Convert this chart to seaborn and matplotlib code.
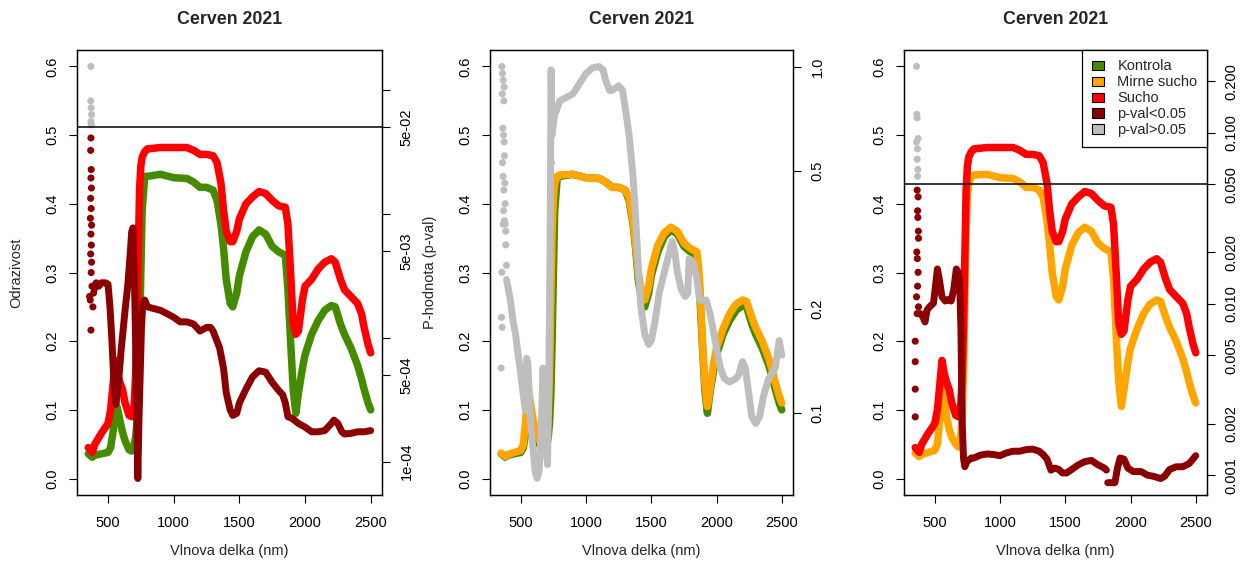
import matplotlib
matplotlib.use("Agg")
import matplotlib.pyplot as plt
import numpy as np
import pandas as pd
import seaborn as sns
from matplotlib.patches import Patch
from matplotlib.ticker import NullLocator

sns.set_style("ticks")
plt.rcParams['font.family'] = ['Liberation Sans', 'DejaVu Sans']

# ---------------- data ----------------
wavelength = [350, 380, 400, 450, 500, 520, 540, 555, 570, 590, 610, 630, 660, 680, 690,
              700, 710, 720, 730, 740, 750, 760, 780, 800, 900, 1000, 1100, 1150, 1200, 1250,
              1300, 1330, 1360, 1380, 1400, 1430, 1450, 1480, 1500, 1550, 1600, 1650, 1700, 1750,
              1800, 1850, 1870, 1890, 1910, 1930, 1950, 1980, 2000, 2050, 2100, 2150, 2200, 2230,
              2270, 2300, 2350, 2400, 2430, 2450, 2480, 2500]

kontrola = [.036, .031, .034, .036, .038, .045, .07, .1, .104, .085, .068, .055, .042, .04, .042,
            .05, .06, .08, .12, .2, .3, .39, .44, .44, .443, .438, .437, .432, .424, .424,
            .42, .405, .37, .335, .29, .255, .25, .27, .295, .33, .352, .362, .356, .338,
            .33, .325, .275, .2, .13, .095, .125, .16, .18, .21, .23, .245, .252, .25,
            .225, .21, .19, .165, .145, .13, .11, .10]

mirne_sucho = [.037, .032, .035, .038, .041, .05, .09, .132, .115, .09, .072, .06, .05, .046, .05,
               .065, .09, .15, .26, .36, .41, .43, .44, .442, .443, .438, .437, .432, .424, .424,
               .42, .41, .375, .34, .3, .265, .26, .28, .305, .34, .358, .366, .36, .343,
               .335, .33, .29, .21, .14, .105, .13, .17, .19, .218, .24, .254, .26, .258,
               .235, .22, .2, .175, .155, .14, .12, .11]

sucho = [.045, .038, .05, .066, .08, .1, .14, .172, .155, .14, .13, .11, .092, .09, .095,
         .11, .15, .22, .32, .42, .455, .468, .476, .48, .482, .482, .482, .478, .472, .472,
         .47, .46, .43, .39, .36, .345, .345, .36, .378, .4, .41, .418, .415, .405,
         .397, .395, .37, .3, .225, .21, .215, .26, .28, .29, .305, .315, .32, .315,
         .29, .275, .265, .255, .24, .22, .195, .183]

# Panel 1: Kontrola vs Sucho p-values
p1_dots_wl = [370, 368, 372, 375, 370, 373, 370, 368, 372, 370, 374, 368, 372, 366, 375, 370,
              373, 368, 375, 372, 378, 360, 365, 370, 385, 390]
p1_dots_p = [0.154, 0.0812, 0.0715, 0.063, 0.0554, 0.052, 0.0408, 0.0324, 0.0227, 0.0194, 0.0161,
             0.0133, 0.0110, 0.00918, 0.00808, 0.00684, 0.00558, 0.00473, 0.00406, 0.00335,
             0.0026, 0.00215, 0.00201, 0.00115, 0.00177, 0.00229]
p1_wl = [395, 410, 430, 450, 480, 500, 515, 530, 545, 560, 580, 600, 630, 650, 670, 680, 690,
         700, 710, 720, 727, 735, 745, 755, 765, 780, 800, 900, 950, 1000, 1050, 1100, 1150,
         1200, 1250, 1280, 1300, 1350, 1380, 1400, 1430, 1450, 1480, 1500, 1550, 1600, 1650,
         1700, 1750, 1800, 1830, 1850, 1870, 1900, 1950, 2000, 2050, 2100, 2150, 2200, 2220,
         2250, 2280, 2300, 2350, 2400, 2450, 2500]
p1_p = [2.44e-3, 2.77e-3, 2.60e-3, 2.77e-3, 2.77e-3, 2.70e-3, 1.77e-3, 9.37e-4, 4.36e-4, 2.90e-4,
        4.36e-4, 7.93e-4, 1.66e-3, 2.60e-3, 4.91e-3, 7.11e-3, 7.68e-3, 3.35e-3, 9.37e-4, 2.03e-4,
        7.31e-5, 2.03e-4, 4.95e-4, 1.21e-3, 1.89e-3, 2.01e-3, 1.77e-3, 1.66e-3, 1.56e-3, 1.46e-3,
        1.34e-3, 1.34e-3, 1.29e-3, 1.13e-3, 1.21e-3, 1.21e-3, 1.13e-3, 8.25e-4, 5.62e-4, 3.60e-4,
        2.62e-4, 2.36e-4, 2.45e-4, 2.97e-4, 3.84e-4, 4.82e-4, 5.41e-4, 5.27e-4, 4.36e-4, 3.74e-4,
        3.46e-4, 2.97e-4, 2.30e-4, 2.24e-4, 2.03e-4, 1.90e-4, 1.74e-4, 1.74e-4, 1.78e-4, 2.03e-4,
        2.16e-4, 2.03e-4, 1.74e-4, 1.67e-4, 1.69e-4, 1.74e-4, 1.74e-4, 1.78e-4]
p1_seg = [0] * len(p1_wl)

# Panel 2: Kontrola vs Mirne sucho p-values
p2_dots_wl = [355, 360, 365, 358, 370, 362, 368, 372, 360, 375, 365, 378, 370, 380, 368, 375,
              385, 390, 355, 352, 357, 350, 380, 385, 365, 372, 728, 730, 735]
p2_dots_p = [1.0, 0.955, 0.913, 0.834, 0.796, 0.664, 0.634, 0.606, 0.528, 0.553, 0.482, 0.461,
             0.44, 0.402, 0.384, 0.359, 0.306, 0.267, 0.255, 0.189, 0.177, 0.135, 0.351, 0.335,
             0.351, 0.873, 0.359, 0.482, 0.528]
p2_wl = [390, 400, 420, 440, 460, 480, 500, 520, 535, 545, 555, 570, 590, 610, 625, 640, 655,
         670, 685, 695, 705, 715, 725, 732, 738, 745, 760, 780, 800, 850, 900, 950, 1000, 1050,
         1100, 1130, 1150, 1180, 1200, 1250, 1280, 1300, 1330, 1360, 1380, 1400, 1420, 1450,
         1480, 1500, 1530, 1560, 1600, 1640, 1660, 1680, 1700, 1730, 1760, 1780, 1790, 1820,
         1850, 1870, 1900, 1920, 1950, 2000, 2030, 2060, 2100, 2150, 2170, 2200, 2220, 2250,
         2270, 2300, 2330, 2360, 2400, 2450, 2480, 2500]
p2_p = [0.243, 0.233, 0.212, 0.185, 0.169, 0.147, 0.129, 0.112, 0.102, 0.144, 0.138, 0.102,
        0.0815, 0.068, 0.0649, 0.068, 0.0853, 0.135, 0.112, 0.0815, 0.0711, 0.129, 0.320, 0.978,
        0.634, 0.664, 0.727, 0.761, 0.796, 0.815, 0.834, 0.893, 0.955, 0.992, 1.0, 0.978, 0.913,
        0.853, 0.853, 0.880, 0.853, 0.761, 0.634, 0.482, 0.367, 0.267, 0.203, 0.169, 0.158,
        0.162, 0.185, 0.222, 0.255, 0.292, 0.313, 0.292, 0.255, 0.227, 0.217, 0.222, 0.279,
        0.273, 0.243, 0.212, 0.212, 0.212, 0.194, 0.154, 0.135, 0.126, 0.123, 0.126, 0.129,
        0.141, 0.135, 0.112, 0.0978, 0.0935, 0.0978, 0.112, 0.126, 0.135, 0.162, 0.147]
p2_seg = [0] * len(p2_wl)

# Panel 3: Mirne sucho vs Sucho p-values
p3_dots_wl = [360, 362, 365, 372, 360, 368, 365, 370, 368, 365, 372, 368, 370, 374, 375, 362,
              366, 372, 368, 360, 375, 365, 350, 350, 350, 350]
p3_dots_p = [0.244, 0.128, 0.122, 0.0924, 0.0883, 0.0805, 0.070, 0.061, 0.0556, 0.0462, 0.0422,
             0.035, 0.032, 0.0266, 0.0242, 0.0201, 0.0184, 0.0153, 0.0127, 0.011, 0.00962,
             0.00878, 0.00606, 0.0046, 0.00318, 0.00219]
p3_wl = [390, 410, 425, 440, 460, 490, 505, 520, 535, 555, 580, 600, 625, 645, 665, 680, 690,
         700, 705, 710, 720, 730, 745, 780, 800, 850, 900, 950, 1000, 1050, 1100, 1150, 1200,
         1250, 1300, 1330, 1360, 1390, 1420, 1450, 1480, 1510, 1550, 1600, 1650, 1700, 1750,
         1800, 1815,
         1825, 1880, 1900, 1920, 1950, 1980, 2020, 2080, 2130, 2180, 2230, 2260, 2300, 2350,
         2400, 2450, 2500]
p3_p = [8.78e-3, 8.38e-3, 7.85e-3, 9.19e-3, 9.62e-3, 1.01e-2, 1.27e-2, 1.60e-2, 1.39e-2, 1.10e-2,
        1.04e-2, 1.06e-2, 1.04e-2, 1.21e-2, 1.60e-2, 1.53e-2, 1.39e-2, 7.29e-3, 3.82e-3, 2.0e-3,
        1.26e-3, 1.12e-3, 1.20e-3, 1.26e-3, 1.26e-3, 1.31e-3, 1.33e-3, 1.32e-3, 1.30e-3, 1.35e-3,
        1.38e-3, 1.38e-3, 1.41e-3, 1.42e-3, 1.38e-3, 1.32e-3, 1.24e-3, 1.07e-3, 1.10e-3, 1.08e-3,
        1.03e-3, 1.03e-3, 1.08e-3, 1.15e-3, 1.20e-3, 1.22e-3, 1.15e-3, 1.10e-3, 1.07e-3,
        9.04e-4, 9.04e-4, 1.10e-3, 1.26e-3, 1.24e-3, 1.10e-3, 1.05e-3, 1.05e-3, 1.00e-3, 9.83e-4,
        9.56e-4, 9.83e-4, 1.08e-3, 1.12e-3, 1.12e-3, 1.17e-3, 1.30e-3]
p3_seg = [0] * 49 + [1] * 17

alpha = 0.05
title = "Cerven 2021"
xlabel = "Vlnova delka (nm)"
ylabel_left = "Odrazivost"
ylabel_right = "P-hodnota (p-val)"
legend_labels = ["Kontrola", "Mirne sucho", "Sucho", "p-val<0.05", "p-val>0.05"]

# ---------------- style ----------------
GREEN, ORANGE, RED, DARKRED, GRAY = "#458B00", "#FFA500", "#FF0000", "#8B0000", "#BEBEBE"
SIG_PAL = {"p-val<0.05": DARKRED, "p-val>0.05": GRAY}
W, H = 1248, 561
TOP, BOT = 50, 495
FS = 10.5

fig = plt.figure(figsize=(W / 100, H / 100), dpi=100)


def sig_frame(wl, p, seg=None):
    df = pd.DataFrame({"wl": wl, "p": p})
    df["sig"] = np.where(df["p"] < alpha, "p-val<0.05", "p-val>0.05")
    df["seg"] = seg if seg is not None else 0
    df["unit"] = df["sig"] + df["seg"].astype(str)
    return df


def panel(left, right, series, dots, line, p_lim, p_ticks, p_labels, hline):
    ax = fig.add_axes([left / W, (H - BOT) / H, (right - left) / W, (BOT - TOP) / H])
    for vals, col in series:
        sns.lineplot(x=wavelength, y=vals, ax=ax, color=col, linewidth=5.4, sort=False,
                     estimator=None, legend=False, solid_capstyle="round")
    ax.set_xlim(264, 2586)
    ax.set_ylim(-0.024, 0.624)
    ax.set_xticks([500, 1000, 1500, 2000, 2500])
    ax.set_xticklabels(["500", "1000", "1500", "2000", "2500"])
    yt = [0, 0.1, 0.2, 0.3, 0.4, 0.5, 0.6]
    ax.set_yticks(yt)
    ax.set_yticklabels([f"{v:.1f}" for v in yt], rotation=90, va="center")
    ax.set_xlabel("")
    ax.set_ylabel("")
    ax.tick_params(axis="x", direction="out", length=5.8, width=0.8, pad=9, labelsize=FS,
                   colors="black")
    ax.tick_params(axis="y", direction="out", length=5.8, width=0.8, pad=7, labelsize=FS,
                   colors="black")

    ax2 = ax.twinx()
    ax2.set_yscale("log")
    ldf = sig_frame(*line)
    sns.lineplot(data=ldf, x="wl", y="p", hue="sig", palette=SIG_PAL, units="unit",
                 estimator=None, sort=False, ax=ax2, linewidth=5.0, legend=False,
                 solid_capstyle="round")
    ddf = sig_frame(*dots)
    sns.scatterplot(data=ddf, x="wl", y="p", hue="sig", palette=SIG_PAL, s=26, linewidth=0,
                    ax=ax2, legend=False)
    if hline:
        ax2.axhline(alpha, color="black", linewidth=1.1)
    ax2.set_ylim(*p_lim)
    ax2.set_yticks(p_ticks)
    ax2.set_yticklabels(p_labels, rotation=90, va="center")
    ax2.yaxis.set_minor_locator(NullLocator())
    ax2.set_xlabel("")
    ax2.set_ylabel("")
    ax2.tick_params(axis="y", which="both", direction="out", length=5.8, width=0.8, pad=7,
                    labelsize=FS, colors="black")
    for a in (ax, ax2):
        for s in a.spines.values():
            s.set_visible(True)
            s.set_color("black")
            s.set_linewidth(0.9)
    cx = (left + right) / 2 / W
    fig.text(cx, 1 - 19.5 / H, title, ha="center", va="center", fontsize=12.8,
             fontweight="bold")
    fig.text(cx, 1 - 551 / H, xlabel, ha="center", va="center", fontsize=FS)
    return ax, ax2


panel(77, 382, [(kontrola, GREEN), (sucho, RED)],
      (p1_dots_wl, p1_dots_p), (p1_wl, p1_p, p1_seg),
      (5.38e-5, 0.209),
      [1e-4, 5e-4, 1e-3, 5e-3, 1e-2, 5e-2, 1e-1],
      ["1e-04", "5e-04", "", "5e-03", "", "5e-02", ""], True)

panel(490, 793, [(kontrola, GREEN), (mirne_sucho, ORANGE)],
      (p2_dots_wl, p2_dots_p), (p2_wl, p2_p, p2_seg),
      (0.0581, 1.116),
      [0.1, 0.2, 0.5, 1.0], ["0.1", "0.2", "0.5", "1.0"], False)

ax3, ax3b = panel(904, 1207, [(mirne_sucho, ORANGE), (sucho, RED)],
                  (p3_dots_wl, p3_dots_p), (p3_wl, p3_p, p3_seg),
                  (7.66e-4, 0.304),
                  [0.001, 0.002, 0.005, 0.01, 0.02, 0.05, 0.1, 0.2],
                  ["0.001", "0.002", "0.005", "0.010", "0.020", "0.050", "0.100", "0.200"],
                  True)

mid = 1 - (TOP + BOT) / 2 / H
fig.text(16 / W, mid, ylabel_left, rotation=90, ha="center", va="center", fontsize=FS)
fig.text(430 / W, mid, ylabel_right, rotation=90, ha="center", va="center", fontsize=FS)

handles = [Patch(facecolor=c, edgecolor="black", linewidth=0.8)
           for c in [GREEN, ORANGE, RED, DARKRED, GRAY]]
leg = ax3b.legend(handles, legend_labels, loc="upper right", bbox_to_anchor=(1, 1),
                  borderaxespad=0, fontsize=FS, frameon=True, fancybox=False,
                  edgecolor="black", framealpha=1, handlelength=0.85, handleheight=0.6,
                  handletextpad=0.9, labelspacing=0.13, borderpad=0.65)
leg.get_frame().set_linewidth(0.9)

fig.savefig("out.png", dpi=100)
